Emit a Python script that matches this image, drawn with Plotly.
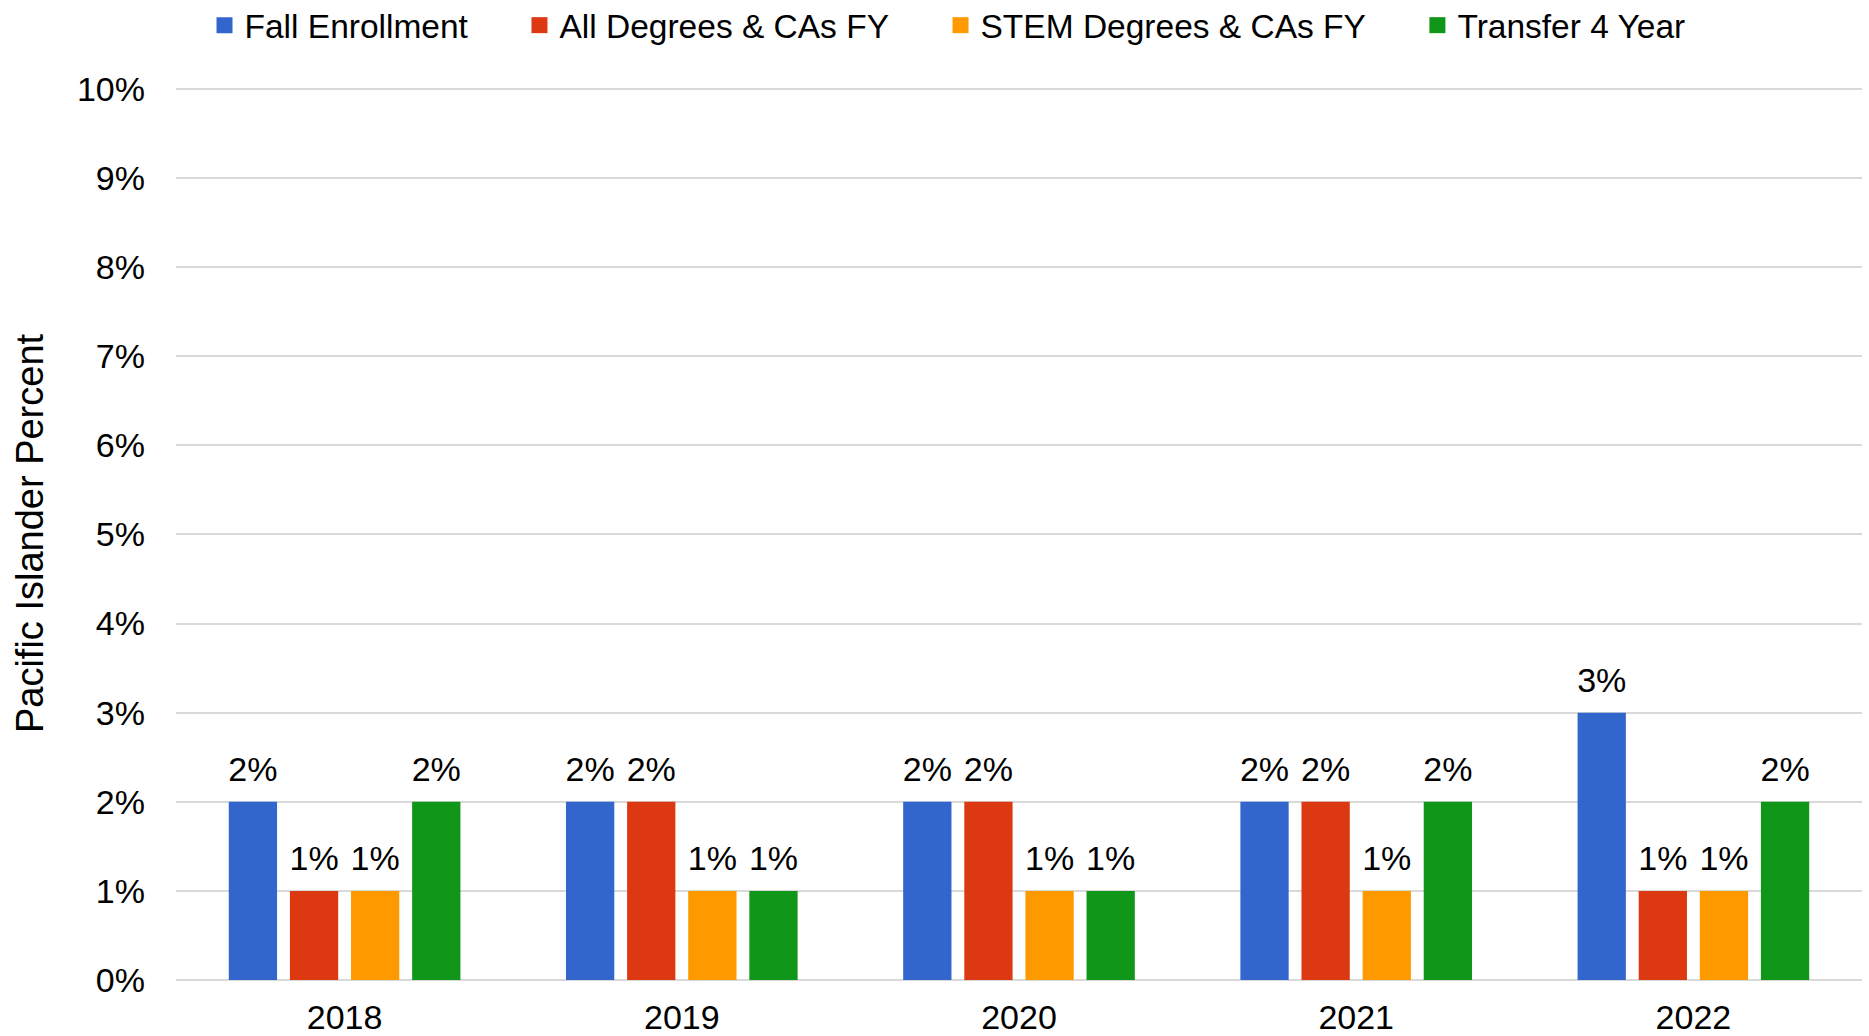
import plotly.graph_objects as go

years = ["2018", "2019", "2020", "2021", "2022"]
series_names = ["Fall Enrollment", "All Degrees & CAs FY", "STEM Degrees & CAs FY", "Transfer 4 Year"]
fall_enrollment = [0.02, 0.02, 0.02, 0.02, 0.03]
all_degrees = [0.01, 0.02, 0.02, 0.02, 0.01]
stem_degrees = [0.01, 0.01, 0.01, 0.01, 0.01]
transfer_4yr = [0.02, 0.01, 0.01, 0.02, 0.02]
colors = ["#3366CC", "#DC3912", "#FF9900", "#109618"]
y_tick_values = [i / 100 for i in range(11)]
y_tick_labels = [f"{i}%" for i in range(11)]

FONT = "Liberation Sans, Arial, sans-serif"
NB = "\u00a0"

fig = go.Figure()
all_vals = [fall_enrollment, all_degrees, stem_degrees, transfer_4yr]
for i, (name, vals, col) in enumerate(zip(series_names, all_vals, colors)):
    fig.add_trace(go.Bar(
        x=years, y=vals, name=name, offsetgroup=str(i), showlegend=False,
        marker=dict(color=col, line=dict(width=0)),
    ))
for i, (name, vals, col) in enumerate(zip(series_names, all_vals, colors)):
    fig.add_trace(go.Scatter(
        x=years, y=vals, mode="markers+text", offsetgroup=str(i), showlegend=False,
        marker=dict(size=18, opacity=0, color=col),
        text=[f"{round(v*100)}%" for v in vals],
        textposition="top center",
        textfont=dict(family=FONT, size=34, color="#000000"),
        cliponaxis=False, hoverinfo="skip",
    ))
for i, (name, col) in enumerate(zip(series_names, colors)):
    label = name + (NB * 5 if i < len(series_names) - 1 else "")
    fig.add_trace(go.Scatter(
        x=[None], y=[None], mode="markers", name=label, offsetgroup=str(i),
        marker=dict(symbol="square", size=16, color=col),
    ))

fig.update_layout(
    width=1869, height=1036,
    paper_bgcolor="white", plot_bgcolor="white",
    margin=dict(l=176, r=7, t=87, b=56, autoexpand=False),
    barmode="group", bargap=0.275, bargroupgap=0.21,
    scattermode="group", scattergap=0.275,
    font=dict(family=FONT, size=34, color="#000000"),
    legend=dict(orientation="h", x=0.4576, xanchor="center", y=1.069, yanchor="middle",
                font=dict(family=FONT, size=33.5, color="#000000"),
                itemclick=False, traceorder="normal", itemwidth=30),
    showlegend=True,
)
fig.update_xaxes(showgrid=False, showline=False, ticks="", tickfont=dict(size=34),
                 ticklabelstandoff=14, automargin=False)
fig.update_yaxes(range=[0, 0.1002], tickvals=y_tick_values, ticktext=y_tick_labels,
                 showgrid=True, gridcolor="#D9D9D9", gridwidth=2,
                 zeroline=True, zerolinecolor="#D9D9D9", zerolinewidth=2,
                 showline=False, ticks="", tickfont=dict(size=34),
                 ticklabelstandoff=30, automargin=False,
                 title=dict(text="Pacific Islander Percent", font=dict(size=38), standoff=21))

fig.write_html("out.html", config={"displayModeBar": False},
               post_script="document.body.style.margin='0';document.body.style.overflow='hidden';")
